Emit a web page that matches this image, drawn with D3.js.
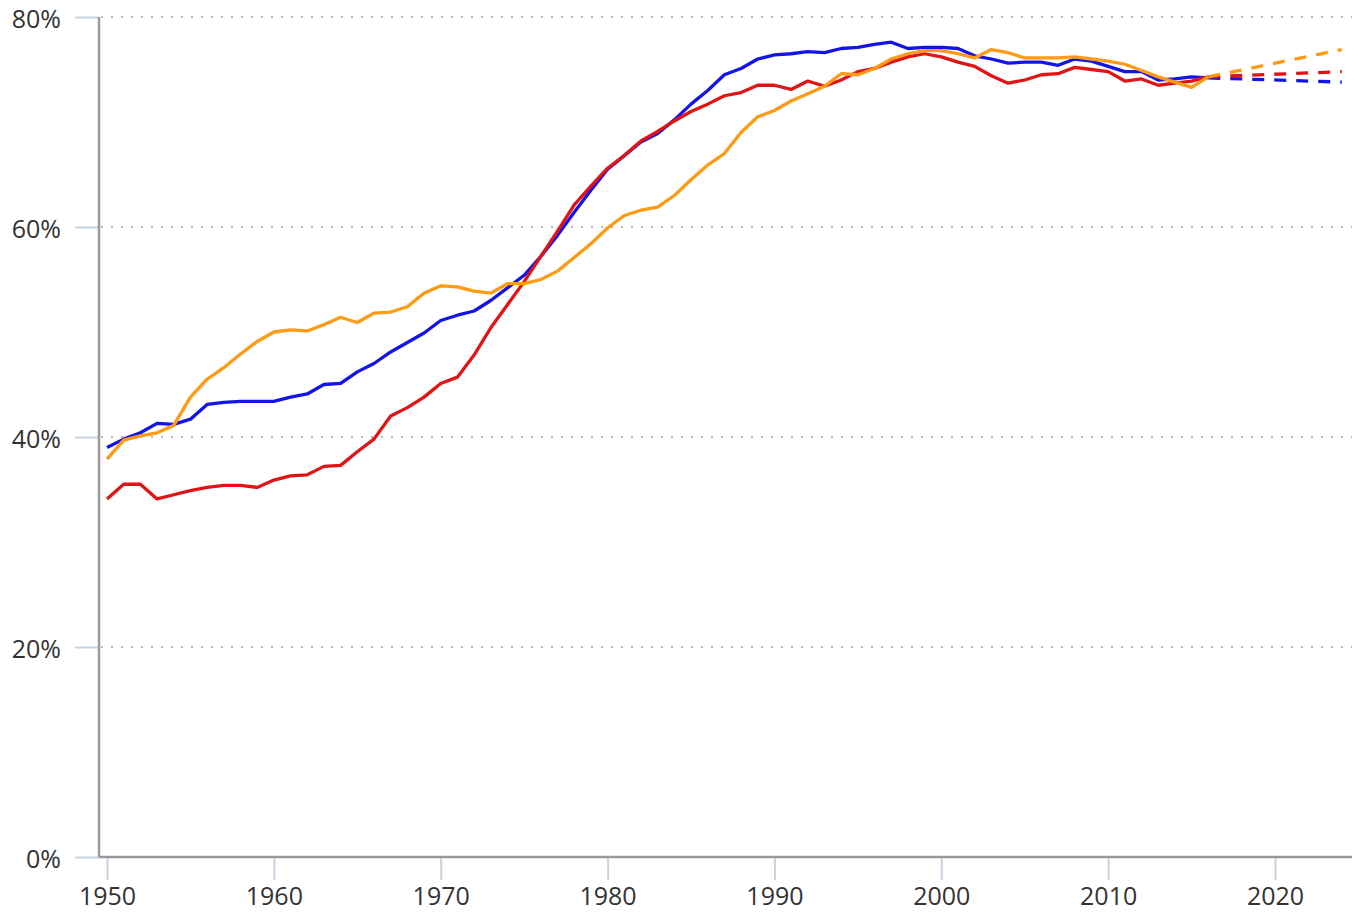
<!DOCTYPE html>
<html>
<head>
<meta charset="utf-8">
<script src="https://cdn.jsdelivr.net/npm/d3@7"></script>
<style>
  html, body { margin: 0; padding: 0; background: #fff; }
  svg { display: block; }
  text { font-family: "Open Sans", "Segoe UI", sans-serif; }
</style>
</head>
<body>
<svg id="chart" width="1358" height="915"></svg>
<script>
const years = d3.range(1950, 2017);

const redValues = [
  34.1, 35.5, 35.5, 34.1, 34.5, 34.9, 35.2, 35.4, 35.4, 35.2,
  35.9, 36.3, 36.4, 37.2, 37.3, 38.6, 39.8, 42.0, 42.8, 43.8,
  45.1, 45.7, 47.8, 50.4, 52.6, 54.8, 57.2, 59.6, 62.1, 63.9,
  65.6, 66.8, 68.2, 69.1, 70.1, 71.0, 71.7, 72.5, 72.8, 73.5,
  73.5, 73.1, 73.9, 73.4, 74.0, 74.8, 75.1, 75.7, 76.2, 76.5,
  76.2, 75.7, 75.3, 74.4, 73.7, 74.0, 74.5, 74.6, 75.2, 75.0,
  74.8, 73.9, 74.1, 73.5, 73.7, 73.9, 74.3
];

const blueValues = [
  39.0, 39.8, 40.4, 41.3, 41.2, 41.7, 43.1, 43.3, 43.4, 43.4,
  43.4, 43.8, 44.1, 45.0, 45.1, 46.2, 47.0, 48.1, 49.0, 49.9,
  51.1, 51.6, 52.0, 53.0, 54.2, 55.4, 57.2, 59.2, 61.4, 63.5,
  65.5, 66.8, 68.1, 68.9, 70.2, 71.7, 73.0, 74.5, 75.1, 76.0,
  76.4, 76.5, 76.7, 76.6, 77.0, 77.1, 77.4, 77.6, 77.0, 77.1,
  77.1, 77.0, 76.3, 76.0, 75.6, 75.7, 75.7, 75.4, 76.0, 75.8,
  75.3, 74.8, 74.8, 74.0, 74.1, 74.3, 74.2
];

const orangeValues = [
  37.9, 39.7, 40.1, 40.4, 41.1, 43.8, 45.5, 46.6, 47.9, 49.1,
  50.0, 50.2, 50.1, 50.7, 51.4, 50.9, 51.8, 51.9, 52.4, 53.7,
  54.4, 54.3, 53.9, 53.7, 54.6, 54.6, 55.0, 55.8, 57.1, 58.4,
  59.9, 61.1, 61.6, 61.9, 63.0, 64.5, 65.9, 67.0, 69.0, 70.5,
  71.1, 72.0, 72.7, 73.4, 74.6, 74.5, 75.1, 76.0, 76.5, 76.8,
  76.8, 76.5, 76.1, 76.9, 76.6, 76.1, 76.1, 76.1, 76.2, 76.0,
  75.8, 75.5, 74.9, 74.3, 73.8, 73.3, 74.3
];

// Projections (dashed)
const projectionYears = [2016, 2024];
const redProjection = [74.3, 74.8];
const blueProjection = [74.2, 73.8];
const orangeProjection = [74.3, 76.9];

const yTicks = [0, 20, 40, 60, 80];
const yTickLabels = ["0%", "20%", "40%", "60%", "80%"];
const xTicks = [1950, 1960, 1970, 1980, 1990, 2000, 2010, 2020];

const series = [
  { name: "blue", color: "#1414e6", values: blueValues, proj: blueProjection },
  { name: "red", color: "#e01414", values: redValues, proj: redProjection },
  { name: "orange", color: "#ff9a14", values: orangeValues, proj: orangeProjection }
];

const svg = d3.select("#chart");
const axisLeftX = 99, axisRightX = 1352, plotTop = 17, plotBottom = 857;

const x = d3.scaleLinear().domain([1950, 2020]).range([107, 1275]);
const y = d3.scaleLinear().domain([0, 80]).range([plotBottom, plotTop]);

// Gridlines
svg.append("g")
  .selectAll("line")
  .data(yTicks.filter(d => d > 0))
  .join("line")
  .attr("x1", axisLeftX + 2).attr("x2", axisRightX)
  .attr("y1", d => y(d)).attr("y2", d => y(d))
  .attr("stroke", "#b8b8b8")
  .attr("stroke-width", 2)
  .attr("stroke-dasharray", "2,8");

// Y axis ticks and labels
const yAxis = d3.axisLeft(y).tickValues(yTicks)
  .tickSize(24).tickPadding(14)
  .tickFormat((d, i) => yTickLabels[i]);
const gy = svg.append("g").attr("transform", `translate(${axisLeftX},0)`).call(yAxis);
gy.select(".domain").remove();
gy.selectAll(".tick line").attr("stroke", "#c8d4e4").attr("stroke-width", 2);
gy.selectAll(".tick text")
  .attr("fill", "#333").attr("font-size", 25)
  .attr("dy", "0.42em");

// X axis ticks and labels
const xAxis = d3.axisBottom(x).tickValues(xTicks)
  .tickSize(23).tickPadding(7)
  .tickFormat(d3.format("d"));
const gx = svg.append("g").attr("transform", `translate(0,${plotBottom})`).call(xAxis);
gx.select(".domain").remove();
gx.selectAll(".tick line").attr("stroke", "#c8d4e4").attr("stroke-width", 2);
gx.selectAll(".tick text").attr("fill", "#333").attr("font-size", 25);

// Axis lines
svg.append("line")
  .attr("x1", axisLeftX).attr("x2", axisLeftX)
  .attr("y1", plotTop).attr("y2", plotBottom)
  .attr("stroke", "#9a9a9a").attr("stroke-width", 2.5);
svg.append("line")
  .attr("x1", axisLeftX).attr("x2", axisRightX)
  .attr("y1", plotBottom).attr("y2", plotBottom)
  .attr("stroke", "#9a9a9a").attr("stroke-width", 2.5);

const line = d3.line().x(d => x(d[0])).y(d => y(d[1]));

// Dashed projections
series.forEach(s => {
  svg.append("path")
    .datum(projectionYears.map((yr, i) => [yr, s.proj[i]]))
    .attr("fill", "none")
    .attr("stroke", s.color)
    .attr("stroke-width", 3.3)
    .attr("stroke-dasharray", "12,10")
    .attr("d", line);
});

// Solid lines
series.forEach(s => {
  svg.append("path")
    .datum(years.map((yr, i) => [yr, s.values[i]]))
    .attr("fill", "none")
    .attr("stroke", s.color)
    .attr("stroke-width", 3.3)
    .attr("stroke-linejoin", "round")
    .attr("d", line);
});
</script>
</body>
</html>
